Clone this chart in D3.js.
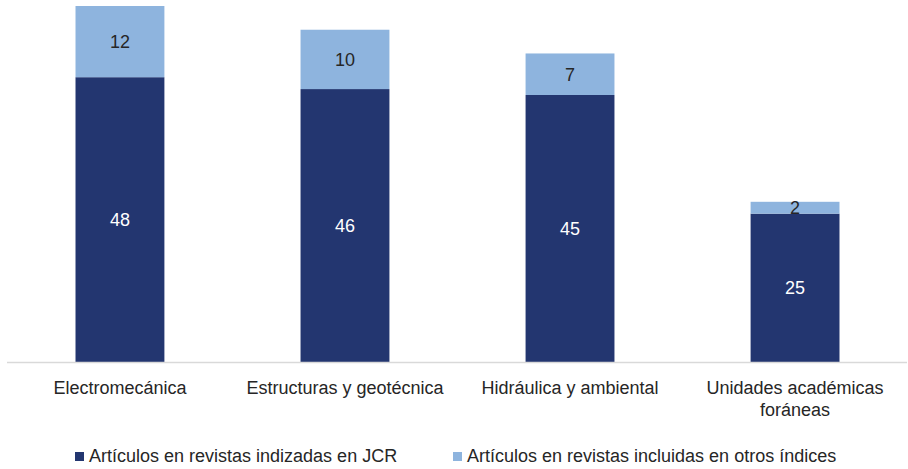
<!DOCTYPE html>
<html>
<head>
<meta charset="utf-8">
<script src="https://cdn.jsdelivr.net/npm/d3@7"></script>
<style>
  html, body { margin: 0; padding: 0; background: #fff; }
  svg { display: block; font-family: "Liberation Sans", Arial, sans-serif; }
</style>
</head>
<body>
<svg id="chart" width="908" height="469"></svg>
<script>
const categories = ["Electromecánica", "Estructuras y geotécnica", "Hidráulica y ambiental", "Unidades académicas foráneas"];
const categoryLines = [["Electromecánica"], ["Estructuras y geotécnica"], ["Hidráulica y ambiental"], ["Unidades académicas", "foráneas"]];
const jcr = [48, 46, 45, 25];
const otros = [12, 10, 7, 2];
const seriesNames = ["Artículos en revistas indizadas en JCR", "Artículos en revistas incluidas en otros índices"];
const colors = ["#233670", "#8eb4de"];
const labelColors = ["#ffffff", "#262626"];

const svg = d3.select("#chart");
const margin = { left: 8, right: 1, top: 6, bottom: 107 };
const W = 908, H = 469;
const fontSize = 18;
const textColor = "#262626";

const rows = categories.map((c, i) => ({ cat: c, jcr: jcr[i], otros: otros[i] }));
const stack = d3.stack().keys(["jcr", "otros"]);
const layers = stack(rows);

const x = d3.scaleBand().domain(categories).range([margin.left, W - margin.right]).paddingInner(0.605).paddingOuter(0.3);
const y = d3.scaleLinear().domain([0, 60]).range([H - margin.bottom, margin.top]);

// stacked segments with their value labels
layers.forEach((layer, li) => {
  const g = svg.append("g");
  g.selectAll("rect").data(layer).enter().append("rect")
    .attr("x", d => x(d.data.cat))
    .attr("width", x.bandwidth())
    .attr("y", d => y(d[1]))
    .attr("height", d => y(d[0]) - y(d[1]))
    .attr("fill", colors[li]);
  g.selectAll("text").data(layer).enter().append("text")
    .attr("x", d => x(d.data.cat) + x.bandwidth() / 2)
    .attr("y", d => (y(d[0]) + y(d[1])) / 2)
    .attr("dy", "0.36em")
    .attr("text-anchor", "middle")
    .attr("font-size", fontSize)
    .attr("fill", labelColors[li])
    .text(d => d[1] - d[0]);
});

// baseline
svg.append("line")
  .attr("x1", margin.left - 1).attr("x2", W - margin.right)
  .attr("y1", y(0) + 0.5).attr("y2", y(0) + 0.5)
  .attr("stroke", "#d9d9d9").attr("stroke-width", 1.5);

// category labels
categories.forEach((c, i) => {
  const t = svg.append("text")
    .attr("x", x(c) + x.bandwidth() / 2)
    .attr("y", y(0) + 32)
    .attr("text-anchor", "middle")
    .attr("font-size", fontSize)
    .attr("fill", textColor);
  categoryLines[i].forEach((line, k) => {
    t.append("tspan").attr("x", x(c) + x.bandwidth() / 2).attr("dy", k === 0 ? 0 : 22).text(line);
  });
});

// legend
const legendX = [75, 453];
seriesNames.forEach((name, i) => {
  const g = svg.append("g").attr("transform", `translate(${legendX[i]},452)`);
  g.append("rect").attr("width", 9).attr("height", 9).attr("fill", colors[i]);
  g.append("text").attr("x", 14).attr("y", 10).attr("font-size", fontSize).attr("fill", textColor).text(name);
});
</script>
</body>
</html>
